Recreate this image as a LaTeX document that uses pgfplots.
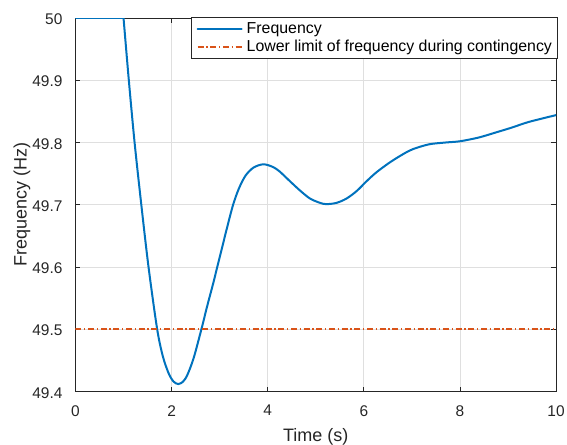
\documentclass[border=0pt]{standalone}
\usepackage{fontspec}
\setmainfont{Liberation Sans}
\usepackage{pgfplots}
\pgfplotsset{compat=1.18}
\definecolor{mblue}{HTML}{0072BD}
\definecolor{morange}{HTML}{D95319}
\definecolor{axgray}{HTML}{262626}
\definecolor{gridgray}{HTML}{DFDFDF}
\begin{document}
\begin{tikzpicture}
\begin{axis}[
  scale only axis, width=360.4pt, height=280.1pt,
  xmin=0, xmax=10, ymin=49.4, ymax=50,
  xtick={0,2,4,6,8,10},
  ytick={49.4,49.5,49.6,49.7,49.8,49.9,50},
  grid=major,
  major grid style={gridgray, line width=0.5pt},
  axis line style={axgray, line width=0.6pt},
  tick style={axgray, line width=0.6pt},
  major tick length=3.6pt,
  /pgf/number format/assume math mode=true,
  tick label style={font=\fontsize{11.6}{13}\selectfont, text=axgray},
  xticklabel style={inner sep=0pt, anchor=north, yshift=-10.1pt},
  yticklabel style={inner sep=0pt, anchor=east, xshift=-9.6pt, yshift=-1pt,
    /pgf/number format/fixed, /pgf/number format/precision=1},
  xlabel={Time (s)},
  ylabel={Frequency (Hz)},
  label style={font=\fontsize{13.5}{15}\selectfont, text=axgray, inner sep=0pt},
  xlabel style={at={(axis description cs:0.5,-0.1344)}, anchor=base},
  ylabel style={at={(axis description cs:-0.1016,0.5)}, anchor=base},
  legend cell align=left,
  legend image code/.code={\draw[#1] (0pt,0pt) -- (33pt,0pt);},
  legend style={at={(1,1)}, anchor=north east, xshift=1.2pt, yshift=1pt,
    draw=axgray, line width=0.6pt, fill=white,
    font=\fontsize{11.9}{13}\selectfont, text=black,
    inner xsep=4pt, inner ysep=2.3pt, column sep=3pt, row sep=0.7pt,
    nodes={inner sep=0pt, text height=1.0em, text depth=0.3em}},
]
\addplot[mblue, line width=1.5pt, line cap=round, forget plot] coordinates {(0,50) (1,50)};
\addplot[mblue, line width=1.5pt, line cap=round, smooth] coordinates {
(1.00,50) (1.11,49.9) (1.23,49.8) (1.37,49.7) (1.52,49.6) (1.70,49.5)
(1.82,49.456) (1.94,49.429) (2.04,49.416) (2.14,49.412) (2.24,49.416)
(2.33,49.427) (2.46,49.454) (2.62,49.5) (2.74,49.537) (2.86,49.572)
(2.95,49.6) (3.05,49.631) (3.16,49.665) (3.28,49.7) (3.40,49.726)
(3.54,49.747) (3.71,49.760) (3.91,49.765) (4.10,49.761) (4.24,49.754)
(4.46,49.738) (4.67,49.723) (4.88,49.710) (5.09,49.703) (5.22,49.701)
(5.43,49.703) (5.64,49.710) (5.85,49.722) (6.06,49.738) (6.26,49.752)
(6.54,49.768) (6.81,49.781) (7.01,49.789) (7.35,49.797) (7.70,49.800)
(8.00,49.802) (8.39,49.808) (8.74,49.816) (9.08,49.824) (9.43,49.833)
(10.0,49.844)};
\addlegendentry{Frequency}
\addplot[morange, line width=1.2pt, dash pattern=on 4.5pt off 2pt on 1pt off 2pt] coordinates {(0,49.5) (10,49.5)};
\addlegendentry{Lower limit of frequency during contingency}
\end{axis}
\pgfresetboundingbox
\path[use as bounding box] (-56.6pt,-39.4pt) rectangle (368.6pt,293.6pt);
\end{tikzpicture}
\end{document}
